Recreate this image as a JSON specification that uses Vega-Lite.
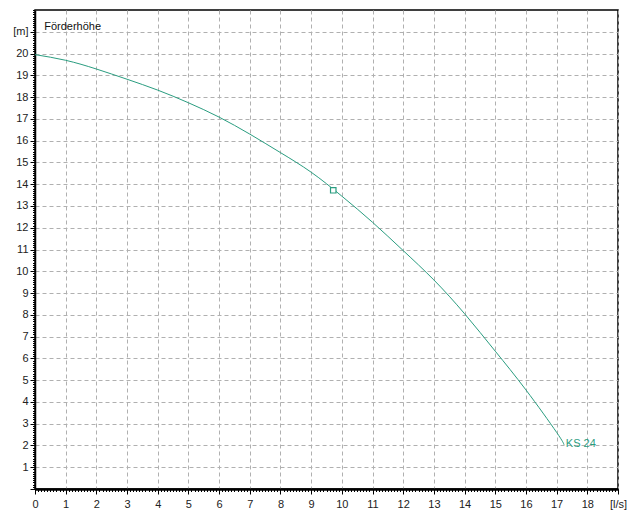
{
  "$schema": "https://vega.github.io/schema/vega-lite/v6.json",
  "autosize": "none",
  "width": 583,
  "height": 479,
  "padding": {"left": 35, "top": 10, "right": 20, "bottom": 30},
  "background": "white",
  "config": {
    "view": {"stroke": "black", "strokeWidth": 1.5},
    "font": "Liberation Sans"
  },
  "datasets": {
    "curve": [
      {"Q": 0, "H": 19.95},
      {"Q": 1, "H": 19.69},
      {"Q": 2, "H": 19.29},
      {"Q": 3, "H": 18.82},
      {"Q": 4, "H": 18.32},
      {"Q": 5, "H": 17.74},
      {"Q": 6, "H": 17.08},
      {"Q": 7, "H": 16.3},
      {"Q": 8, "H": 15.45},
      {"Q": 9, "H": 14.55},
      {"Q": 10, "H": 13.45},
      {"Q": 11, "H": 12.25},
      {"Q": 12, "H": 10.95},
      {"Q": 13, "H": 9.6},
      {"Q": 14, "H": 8.05},
      {"Q": 15, "H": 6.33},
      {"Q": 16, "H": 4.55},
      {"Q": 17, "H": 2.6},
      {"Q": 17.24, "H": 2.03}
    ],
    "point": [{"Q": 9.72, "H": 13.72}],
    "labels": [
      {"Q": 17.3, "H": 2.05, "text": "KS 24"}
    ],
    "title": [{"Q": 0.3, "H": 21.22, "text": "Förderhöhe"}]
  },
  "layer": [
    {
      "data": {"name": "curve"},
      "mark": {"type": "line", "color": "#2a9d80", "strokeWidth": 1, "interpolate": "natural", "clip": true},
      "encoding": {
        "x": {
          "field": "Q", "type": "quantitative",
          "scale": {"domain": [0, 19], "nice": false, "zero": true},
          "axis": {
            "values": [0,1,2,3,4,5,6,7,8,9,10,11,12,13,14,15,16,17,18,19],
            "labelExpr": "datum.value == 19 ? '[l/s]' : datum.label",
            "title": null,
            "grid": true, "gridColor": "#b0b0b0", "gridDash": [4, 3], "gridWidth": 1,
            "domainColor": "black", "domainWidth": 2.5,
            "tickColor": "black", "tickSize": 5, "tickWidth": 1,
            "labelFont": "Liberation Sans", "labelFontSize": 11, "labelColor": "#222",
            "labelPadding": 4, "labelFlush": false, "labelOverlap": false
          }
        },
        "y": {
          "field": "H", "type": "quantitative",
          "scale": {"domain": [0, 22], "nice": false},
          "axis": {
            "values": [0,1,2,3,4,5,6,7,8,9,10,11,12,13,14,15,16,17,18,19,20,21],
            "labelExpr": "datum.value == 0 ? '' : datum.value == 21 ? '[m]' : datum.label",
            "title": null,
            "grid": true, "gridColor": "#b0b0b0", "gridDash": [4, 3], "gridWidth": 1,
            "domainColor": "black", "domainWidth": 1.5,
            "tickColor": "black", "tickSize": 5, "tickWidth": 1,
            "labelFont": "Liberation Sans", "labelFontSize": 11, "labelColor": "#222",
            "labelPadding": 2, "labelFlush": false, "labelOverlap": false
          }
        }
      }
    },
    {
      "data": {"name": "curve"},
      "mark": {"type": "point", "opacity": 0},
      "encoding": {
        "x": {
          "field": "Q", "type": "quantitative",
          "scale": {"domain": [0, 19], "nice": false},
          "axis": {"orient": "bottom", "tickCount": 190, "labels": false, "grid": false, "domain": false, "tickColor": "black", "tickSize": 2.5, "tickWidth": 1, "title": null}
        },
        "y": {
          "field": "H", "type": "quantitative",
          "scale": {"domain": [0, 22], "nice": false},
          "axis": {"orient": "left", "tickCount": 220, "labels": false, "grid": false, "domain": false, "tickColor": "black", "tickSize": 2.5, "tickWidth": 1, "title": null}
        }
      }
    },
    {
      "data": {"name": "point"},
      "mark": {"type": "square", "size": 30, "filled": false, "color": "#2a9d80", "strokeWidth": 1.2, "fill": "white", "fillOpacity": 1},
      "encoding": {
        "x": {"field": "Q", "type": "quantitative", "scale": {"domain": [0, 19], "nice": false}, "axis": null},
        "y": {"field": "H", "type": "quantitative", "scale": {"domain": [0, 22], "nice": false}, "axis": null}
      }
    },
    {
      "data": {"name": "labels"},
      "mark": {"type": "text", "align": "left", "baseline": "middle", "color": "#2a9d80", "font": "Liberation Sans", "fontSize": 11},
      "encoding": {
        "x": {"field": "Q", "type": "quantitative", "scale": {"domain": [0, 19], "nice": false}, "axis": null},
        "y": {"field": "H", "type": "quantitative", "scale": {"domain": [0, 22], "nice": false}, "axis": null},
        "text": {"field": "text"}
      }
    },
    {
      "data": {"name": "title"},
      "mark": {"type": "text", "align": "left", "baseline": "middle", "color": "#111", "font": "Liberation Sans", "fontSize": 11},
      "encoding": {
        "x": {"field": "Q", "type": "quantitative", "scale": {"domain": [0, 19], "nice": false}, "axis": null},
        "y": {"field": "H", "type": "quantitative", "scale": {"domain": [0, 22], "nice": false}, "axis": null},
        "text": {"field": "text"}
      }
    }
  ],
  "resolve": {"axis": {"x": "independent", "y": "independent"}}
}
